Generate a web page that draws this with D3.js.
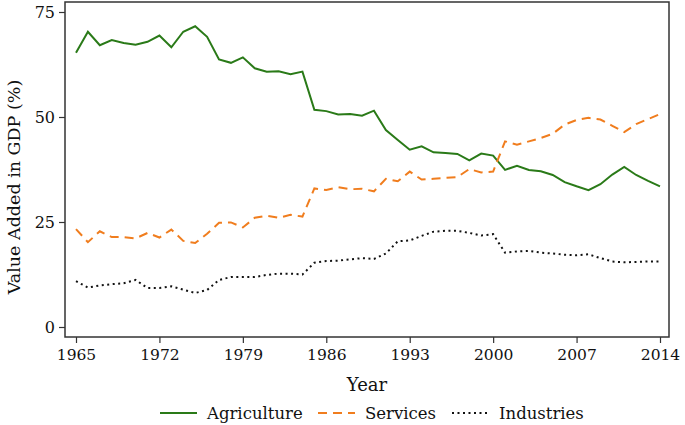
<!DOCTYPE html>
<html><head><meta charset="utf-8">
<script src="https://cdn.jsdelivr.net/npm/d3@7"></script>
<style>body{margin:0;background:#fff}svg{display:block}text{font-family:"DejaVu Serif",serif;fill:#111}</style>
</head><body><svg id="c" width="685" height="425"></svg>
<script>
const years = d3.range(1965, 2015);
const agriculture = [65.3,70.3,67.1,68.3,67.6,67.2,67.9,69.4,66.6,70.3,71.6,69.1,63.7,62.9,64.2,61.6,60.8,60.9,60.2,60.8,51.7,51.4,50.6,50.7,50.3,51.5,46.9,44.5,42.2,43.0,41.6,41.4,41.2,39.7,41.3,40.8,37.4,38.4,37.4,37.1,36.2,34.5,33.5,32.6,34.0,36.3,38.1,36.2,34.8,33.5];
const services = [23.3,20.2,22.8,21.4,21.4,21.1,22.4,21.3,23.2,20.5,20.0,22.2,24.8,24.9,23.7,26.0,26.5,26.0,26.7,26.3,33.0,32.6,33.3,32.8,32.9,32.3,35.3,34.7,37.0,35.1,35.3,35.5,35.7,37.6,36.8,37.0,44.2,43.4,44.2,45.0,46.0,48.2,49.3,49.8,49.4,47.9,46.4,48.3,49.5,50.7];
const industries = [10.9,9.4,9.9,10.2,10.4,11.2,9.3,9.3,9.7,8.9,8.1,8.8,11.2,11.9,11.9,11.9,12.4,12.7,12.7,12.5,15.3,15.7,15.8,16.1,16.4,16.2,17.5,20.4,20.6,21.7,22.7,22.9,22.9,22.4,21.8,22.1,17.7,18.0,18.1,17.7,17.5,17.2,17.1,17.3,16.4,15.6,15.4,15.5,15.6,15.6];
const xTicks = [1965,1972,1979,1986,1993,2000,2007,2014];
const yTicks = [0,25,50,75];
const seriesNames = ["Agriculture","Services","Industries"];

const svg = d3.select("#c");
const frame = {l:65, r:669, t:2, b:337};
const x = d3.scaleLinear().domain([1965,2014]).range([76,660]);
const y = d3.scaleLinear().domain([0,75]).range([327,12]);

svg.append("rect").attr("x",frame.l).attr("y",frame.t).attr("width",frame.r-frame.l).attr("height",frame.b-frame.t)
  .attr("fill","none").attr("stroke","#333").attr("stroke-width",1.5);

const yAxis = svg.append("g").attr("transform",`translate(${frame.l},0)`)
  .call(d3.axisLeft(y).tickValues(yTicks).tickSize(6).tickPadding(4));
yAxis.select(".domain").remove();
yAxis.selectAll("line").attr("stroke","#333").attr("stroke-width",1.2);
yAxis.selectAll("text").style("font-family",'"DejaVu Serif",serif').style("font-size","16px").attr("fill","#111");

const xAxis = svg.append("g").attr("transform",`translate(0,${frame.b})`)
  .call(d3.axisBottom(x).tickValues(xTicks).tickFormat(d3.format("d")).tickSize(6).tickPadding(6));
xAxis.select(".domain").remove();
xAxis.selectAll("line").attr("stroke","#333").attr("stroke-width",1.2);
xAxis.selectAll("text").style("font-family",'"DejaVu Serif",serif').style("font-size","15.5px").attr("fill","#111");

svg.append("text").attr("x",367).attr("y",391).attr("text-anchor","middle").style("font-size","18px").text("Year");
svg.append("text").attr("transform","translate(20,187) rotate(-90)").attr("text-anchor","middle").style("font-size","17.5px").text("Value Added in GDP (%)");

const styles = [
  {data:agriculture, color:"#2a7a18", dash:null, w:2},
  {data:services, color:"#f07d1e", dash:"9,6", w:2},
  {data:industries, color:"#111", dash:"2,3.5", w:2}
];
const line = d3.line().x((d,i)=>x(years[i])).y(d=>y(d));
styles.forEach(s=>{
  svg.append("path").datum(s.data).attr("d",line).attr("fill","none")
    .attr("stroke",s.color).attr("stroke-width",s.w).attr("stroke-dasharray",s.dash);
});

const legX = [160,318,452];
const legG = svg.append("g");
seriesNames.forEach((n,i)=>{
  const s = styles[i];
  legG.append("line").attr("x1",legX[i]).attr("x2",legX[i]+37).attr("y1",413).attr("y2",413)
    .attr("stroke",s.color).attr("stroke-width",s.w).attr("stroke-dasharray",s.dash);
  legG.append("text").attr("x",legX[i]+47).attr("y",419).style("font-size","16.5px").text(n);
});
</script></body></html>
